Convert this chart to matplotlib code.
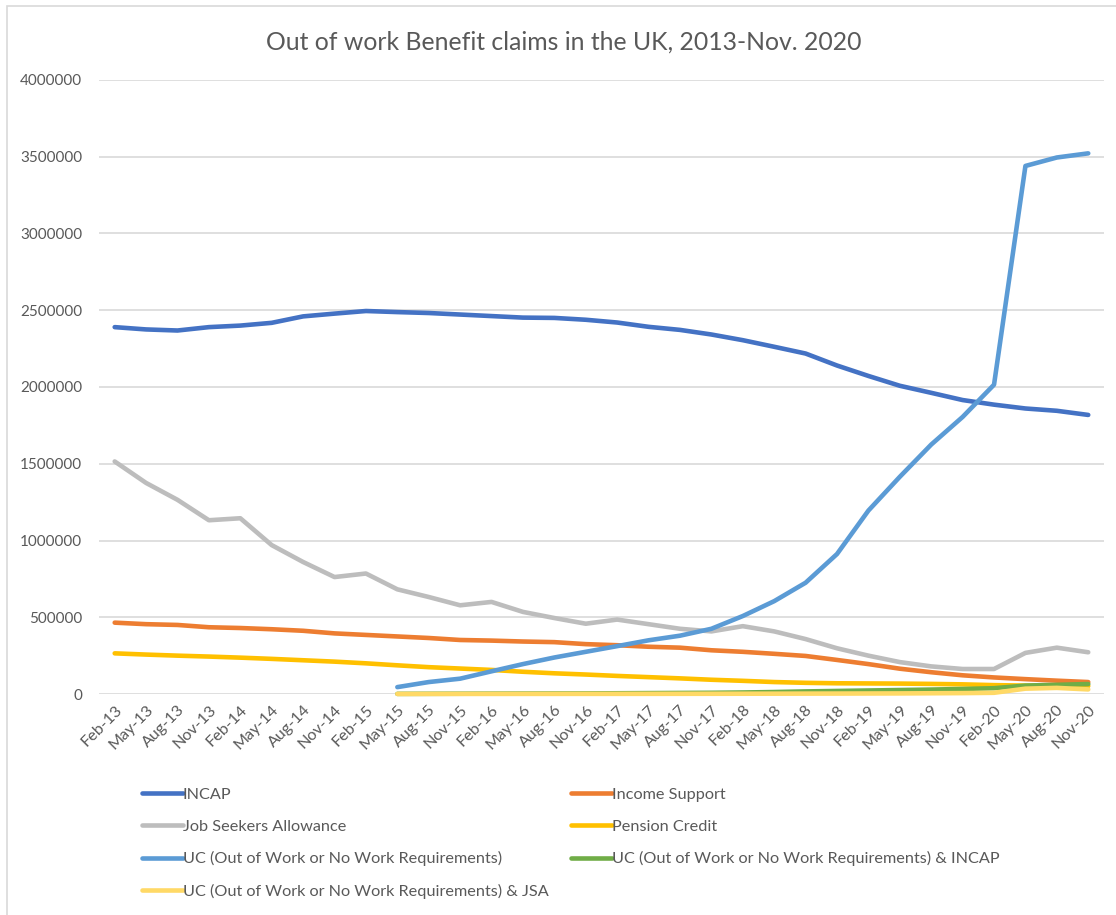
import matplotlib
matplotlib.use('Agg')
import matplotlib.pyplot as plt
from matplotlib.patches import Rectangle

plt.rcParams['font.family'] = ['Lato', 'DejaVu Sans']

# Quarterly claimant counts, Feb 2013 - Nov 2020
quarters = []
for year in range(13, 21):
    for month in ['Feb', 'May', 'Aug', 'Nov']:
        quarters.append(month + '-' + str(year))

incap = [2390000, 2375000, 2368000, 2390000, 2400000, 2418000, 2460000, 2478000,
         2495000, 2488000, 2482000, 2472000, 2462000, 2452000, 2450000, 2438000,
         2420000, 2392000, 2372000, 2342000, 2305000, 2262000, 2218000, 2140000,
         2072000, 2008000, 1962000, 1915000, 1885000, 1860000, 1845000, 1818000]

income_support = [465000, 455000, 450000, 435000, 430000, 422000, 412000, 395000,
                  385000, 375000, 365000, 352000, 348000, 342000, 338000, 325000,
                  318000, 308000, 302000, 285000, 275000, 262000, 248000, 222000,
                  195000, 165000, 142000, 122000, 108000, 97000, 87000, 78000]

jsa = [1515000, 1375000, 1265000, 1132000, 1145000, 970000, 860000, 762000,
       785000, 682000, 632000, 578000, 600000, 535000, 495000, 458000,
       485000, 455000, 425000, 408000, 442000, 408000, 358000, 298000,
       250000, 208000, 180000, 163000, 163000, 268000, 302000, 272000]

pension_credit = [265000, 257000, 250000, 244000, 237000, 229000, 220000, 211000,
                  200000, 187000, 175000, 166000, 157000, 145000, 135000, 127000,
                  118000, 110000, 102000, 93000, 86000, 78000, 73000, 70000,
                  69000, 68000, 66000, 63000, 58000, 55000, 53000, 52000]

# UC series only start in May 2015 (None = no data)
uc = [None] * 9 + [45000, 78000, 100000, 148000, 195000, 238000, 275000,
                   312000, 350000, 380000, 425000, 508000, 605000, 725000, 912000,
                   1195000, 1415000, 1625000, 1805000, 2015000, 3440000, 3495000, 3522000]

uc_incap = [None] * 9 + [1000, 1500, 2000, 2500, 3000, 3500, 4000,
                         5000, 6000, 7000, 8000, 10000, 13000, 17000, 20000,
                         23000, 26000, 29000, 33000, 38000, 55000, 60000, 65000]

uc_jsa = [None] * 9 + [500, 600, 700, 800, 900, 1000, 1100,
                       1200, 1300, 1500, 1700, 2000, 2300, 2700, 3000,
                       3500, 4000, 5000, 6000, 8000, 35000, 40000, 30000]

series = [
    ('INCAP', incap, '#4472C4'),
    ('Income Support', income_support, '#ED7D31'),
    ('Job Seekers Allowance', jsa, '#BDBDBD'),
    ('Pension Credit', pension_credit, '#FFC000'),
    ('UC (Out of Work or No Work Requirements)', uc, '#5B9BD5'),
    ('UC (Out of Work or No Work Requirements) & INCAP', uc_incap, '#70AD47'),
    ('UC (Out of Work or No Work Requirements) & JSA', uc_jsa, '#FFD966'),
]

fig = plt.figure(figsize=(11.16, 9.15), dpi=100)
ax = fig.add_axes([0.0887, 0.2415, 0.9005, 0.6711])

x = list(range(len(quarters)))
handles = {}
for name, values, color in series:
    xs = [i for i, v in zip(x, values) if v is not None]
    ys = [v for v in values if v is not None]
    line, = ax.plot(xs, ys, color=color, linewidth=3.3, solid_capstyle='round',
                    solid_joinstyle='round', label=name, clip_on=False)
    handles[name] = line

ax.set_xlim(-0.5, len(quarters) - 0.5)
ax.set_ylim(0, 4000000)
ax.set_yticks(range(0, 4000001, 500000))
ax.set_yticklabels([str(v) for v in range(0, 4000001, 500000)])
ax.set_xticks(x)
ax.set_xticklabels(quarters, rotation=45, ha='right', va='top', rotation_mode='anchor')

ax.grid(axis='y', color='#D9D9D9', linewidth=1.2)
ax.set_axisbelow(True)
for side in ['top', 'right', 'left', 'bottom']:
    ax.spines[side].set_visible(False)
ax.tick_params(axis='both', length=0, colors='#595959', labelsize=11)
ax.tick_params(axis='x', labelsize=11.6, pad=6)
ax.tick_params(axis='y', pad=12)

fig.suptitle('Out of work Benefit claims in the UK, 2013-Nov. 2020',
             x=0.505, y=0.967, fontsize=17.8, color='#595959')

# legend reads row by row, matplotlib fills column by column
order = [series[i][0] for i in [0, 2, 4, 6, 1, 3, 5]]
leg = fig.legend([handles[n] for n in order], order, ncol=2, loc='upper left',
                 bbox_to_anchor=(0.1200, 0.148), frameon=False, fontsize=11.7,
                 handlelength=2.5, handletextpad=0.0, columnspacing=1.4,
                 labelspacing=1.07, borderpad=0)
for t in leg.get_texts():
    t.set_color('#595959')

# chart area border
fig.patches.append(Rectangle((0.0063, -0.05), 1.5, 1.043, transform=fig.transFigure,
                             fill=False, edgecolor='#D9D9D9', linewidth=1.2))

fig.savefig('out.png', dpi=100)
